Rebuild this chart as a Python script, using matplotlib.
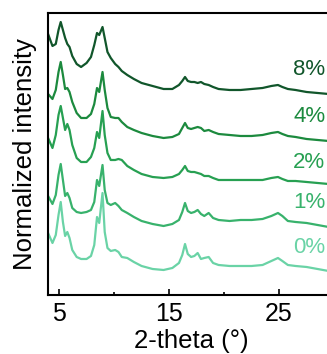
import matplotlib as mpl
import matplotlib.pyplot as plt

mpl.use('Agg')

plt.rcParams['font.family'] = ['Liberation Sans', 'DejaVu Sans']

# 2-theta positions (deg) shared by all patterns
two_theta = [4.0, 4.4, 4.7, 4.95, 5.15, 5.35, 5.55, 5.75, 5.95, 6.2,
             6.6, 7.0, 7.5, 7.9, 8.2, 8.45, 8.65, 8.95, 9.15, 9.4,
             9.7, 10.1, 10.4, 10.7, 11.2, 11.8, 12.5, 13.5, 14.5, 15.3,
             15.9, 16.2, 16.45, 16.7, 17.0, 17.3, 17.6, 17.9, 18.2, 18.6,
             19.0, 19.5, 20.5, 21.5, 22.5, 23.5, 24.3, 24.9, 25.3, 25.8,
             26.5, 27.5, 28.5, 29.5, 30.0]

# stacked (offset) normalized intensities, arbitrary units
pct_8 = [261, 249, 251, 265, 273, 265, 257, 251, 248, 239,
         231, 228, 232, 238, 250, 262, 260, 268, 257, 243,
         237, 231, 228, 224, 220, 216, 212, 209, 206, 206,
         210, 214, 218, 214, 213, 213, 212, 213, 211, 210,
         208, 206, 205, 205, 206, 207, 209, 210, 208, 206,
         205, 203, 202, 201, 201]
pct_4 = [201, 196, 205, 223, 233, 220, 206, 207, 203, 193,
         182, 177, 177, 181, 191, 207, 203, 223, 205, 187,
         178, 177, 177, 173, 168, 165, 162, 159, 157, 158,
         161, 167, 172, 167, 166, 167, 168, 167, 164, 165,
         163, 161, 160, 159, 159, 160, 162, 163, 161, 159,
         158, 156, 155, 154, 154]
pct_2 = [157, 147, 160, 180, 189, 177, 165, 171, 165, 150,
         137, 133, 133, 138, 147, 163, 157, 184, 160, 142,
         135, 135, 136, 135, 129, 125, 121, 118, 117, 118,
         121, 125, 129, 124, 123, 123, 122, 121, 119, 119,
         117, 115, 115, 115, 115, 115, 117, 118, 116, 114,
         114, 113, 112, 111, 111]
pct_1 = [99, 91, 100, 120, 131, 115, 99, 102, 97, 87,
         83, 82, 83, 85, 93, 115, 109, 130, 105, 92,
         90, 92, 89, 85, 82, 78, 74, 71, 69, 71,
         75, 83, 92, 84, 82, 83, 85, 81, 79, 82,
         77, 75, 74, 75, 75, 76, 79, 82, 79, 74,
         73, 72, 70, 68, 68]
pct_0 = [62, 52, 60, 80, 93, 73, 59, 63, 57, 45,
         38, 36, 36, 39, 50, 78, 72, 102, 63, 47,
         44, 45, 43, 38, 37, 33, 29, 26, 25, 27,
         32, 40, 51, 41, 38, 39, 42, 36, 37, 38,
         32, 30, 29, 29, 29, 30, 34, 37, 34, 30,
         29, 28, 26, 24, 24]

labels = ['0%', '1%', '2%', '4%', '8%']
series = [pct_0, pct_1, pct_2, pct_4, pct_8]
label_y = [47, 92, 132, 178, 225]
colors = ['#6ad3a6', '#38b26c', '#27a052', '#1c8a3e', '#11562b']

fig = plt.figure(figsize=(3.27, 3.54), dpi=100)
ax = fig.add_axes([0.147, 0.1667, 0.8746, 0.7966])

for y, lab, ly, c in zip(series, labels, label_y, colors):
    ax.plot(two_theta, y, color=c, lw=1.6)
    ax.text(29.2, ly, lab, color=c, fontsize=16, ha='right', va='center')

ax.set_xlim(4, 30)
ax.set_ylim(0, 282)
ax.set_xticks([5, 15, 25])
ax.set_xticks([10, 20], minor=True)
ax.set_yticks([])
ax.tick_params(axis='x', which='major', direction='in', length=4.5,
               width=1.2, labelsize=18, pad=5)
ax.tick_params(axis='x', which='minor', direction='in', length=2.2, width=1.2)
for s in ax.spines.values():
    s.set_linewidth(1.5)
ax.set_xlabel('2-theta (°)', fontsize=18.5, labelpad=2)
ax.set_ylabel('Normalized intensity', fontsize=18.5, labelpad=8)

plt.savefig('out.png', dpi=100)
plt.close()
